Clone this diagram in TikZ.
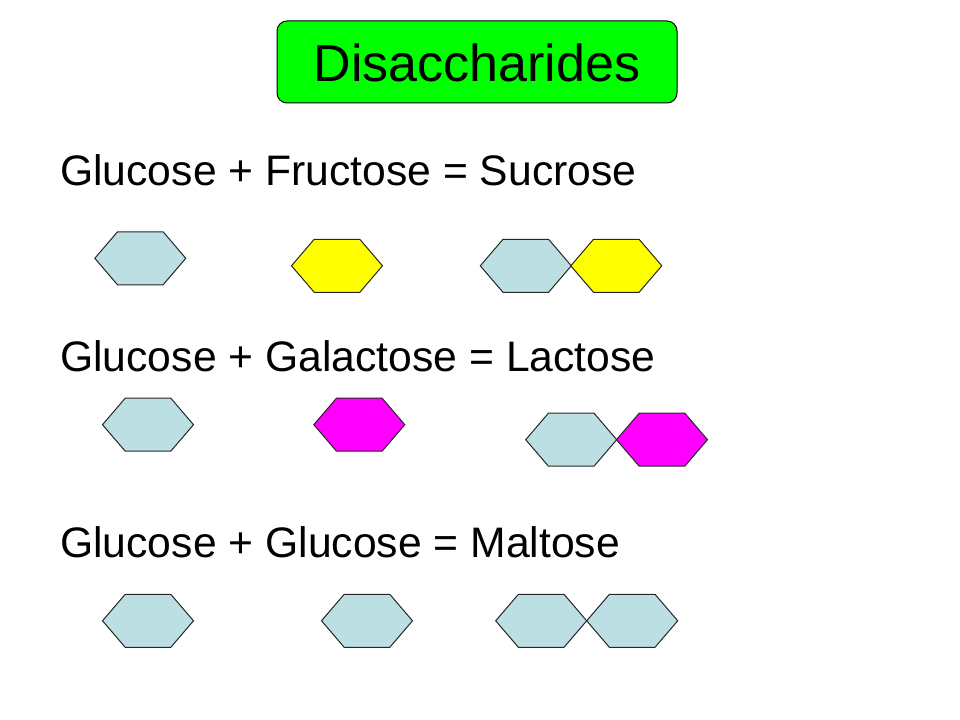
\documentclass[tikz,border=0pt]{standalone}
\usepackage{fontspec}
\setmainfont{Liberation Sans}
\usetikzlibrary{positioning}
\definecolor{titlegreen}{HTML}{00FF00}
\definecolor{glublue}{HTML}{BBDFE3}
\definecolor{fruyellow}{HTML}{FFFF00}
\definecolor{galmagenta}{HTML}{FF00FF}

\tikzset{
  sugar/.pic={
    \draw[pic actions] (-45.5,0) -- (-22.8,26.5) -- (22.8,26.5) -- (45.5,0)
      -- (22.8,-26.5) -- (-22.8,-26.5) -- cycle;
  },
  ring/.style={draw=black!85, line width=0.75pt, line join=miter},
  eqline/.style={anchor=base west, inner sep=0pt,
    font=\fontsize{32}{38}\selectfont},
}

\begin{document}
\begin{tikzpicture}[x=0.75pt, y=-0.75pt]
    \useasboundingbox (0,0) rectangle (960,720);

    \node[draw=black, fill=titlegreen, rounded corners=7.5pt,
          line width=0.75pt, minimum width=300pt, minimum height=61.5pt,
          text height=30pt, text depth=0pt,
          font=\fontsize{39}{46}\selectfont] (title) at (477,62) {Disaccharides};

    % sucrose
    \node[eqline] (sucrose) at (60,185.3) {Glucose + Fructose = Sucrose};
    \pic[ring, fill=glublue] (suglc) at (140.3,258.3) {sugar};
    \pic[ring, fill=fruyellow] (sufru) at (337,265.8) {sugar};
    \pic[ring, fill=glublue] (supa) at (525.8,265.8) {sugar};
    \pic[ring, fill=fruyellow] (supb) at (616.3,265.8) {sugar};

    % lactose
    \node[eqline] (lactose) at (60,371.3) {Glucose + Galactose = Lactose};
    \pic[ring, fill=glublue] (laglc) at (148,424.7) {sugar};
    \pic[ring, fill=galmagenta] (lagal) at (359.3,424.7) {sugar};
    \pic[ring, fill=glublue] (lapa) at (571.2,439.7) {sugar};
    \pic[ring, fill=galmagenta] (lapb) at (662,439.7) {sugar};

    % maltose
    \node[eqline] (maltose) at (60,557.3) {Glucose + Glucose = Maltose};
    \pic[ring, fill=glublue] (maglc) at (148,620.8) {sugar};
    \pic[ring, fill=glublue] (maglcb) at (367,620.8) {sugar};
    \pic[ring, fill=glublue] (mapa) at (541.2,620.8) {sugar};
    \pic[ring, fill=glublue] (mapb) at (632.2,620.8) {sugar};
  \end{tikzpicture}
\end{document}
